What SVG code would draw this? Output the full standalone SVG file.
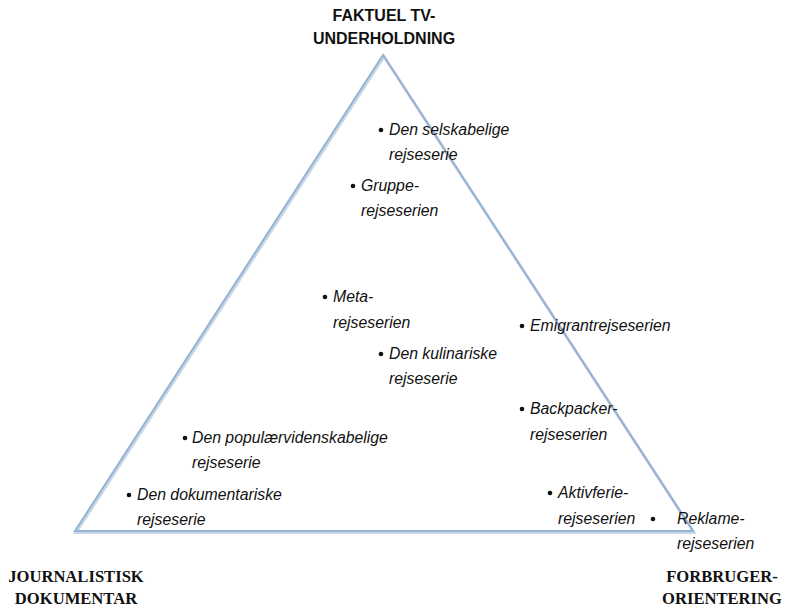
<svg xmlns="http://www.w3.org/2000/svg" width="785" height="608" viewBox="0 0 785 608">
<style>
.item{font-family:"Liberation Sans",Arial,sans-serif;font-style:italic;font-size:15.8px;fill:#111}
.bul{fill:#111}
.top{font-family:"Liberation Sans",Arial,sans-serif;font-weight:bold;font-size:16px;fill:#111;text-anchor:middle}
.corner{font-family:"Liberation Serif","Times New Roman",serif;font-weight:bold;font-size:16.6px;fill:#111;text-anchor:middle}
</style>
<rect width="785" height="608" fill="#fff"/>
<g id="connectors">
<polygon points="383,55 75,531 693,531" fill="none" stroke="#c8d6e6" stroke-width="3" transform="translate(1,1.5)"/>
<polygon points="383,55 75,531 693,531" fill="none" stroke="#97b3d2" stroke-width="2"/>
</g>
<g id="apex-top">
<text class="top" x="384" y="21">FAKTUEL TV-</text>
<text class="top" x="384" y="44">UNDERHOLDNING</text>
</g>
<g id="corner-left">
<text class="corner" x="76" y="582">JOURNALISTISK</text>
<text class="corner" x="76" y="604">DOKUMENTAR</text>
</g>
<g id="corner-right">
<text class="corner" x="722" y="582">FORBRUGER-</text>
<text class="corner" x="722" y="604">ORIENTERING</text>
</g>
<g id="selskabelige">
<circle class="bul" cx="381" cy="130" r="2.3"/>
<text class="item" x="389" y="135">Den selskabelige</text>
<text class="item" x="389" y="160">rejseserie</text>
</g>
<g id="gruppe">
<circle class="bul" cx="353" cy="186" r="2.3"/>
<text class="item" x="361" y="191">Gruppe-</text>
<text class="item" x="361" y="216">rejseserien</text>
</g>
<g id="meta">
<circle class="bul" cx="325" cy="297" r="2.3"/>
<text class="item" x="333" y="302">Meta-</text>
<text class="item" x="333" y="328">rejseserien</text>
</g>
<g id="kulinariske">
<circle class="bul" cx="381" cy="354" r="2.3"/>
<text class="item" x="389" y="359">Den kulinariske</text>
<text class="item" x="389" y="384">rejseserie</text>
</g>
<g id="emigrant">
<circle class="bul" cx="522" cy="326" r="2.3"/>
<text class="item" x="530" y="331">Emigrantrejseserien</text>
</g>
<g id="backpacker">
<circle class="bul" cx="522" cy="409" r="2.3"/>
<text class="item" x="530" y="414">Backpacker-</text>
<text class="item" x="530" y="440">rejseserien</text>
</g>
<g id="popularvidenskabelige">
<circle class="bul" cx="185" cy="438" r="2.3"/>
<text class="item" x="192" y="443">Den populærvidenskabelige</text>
<text class="item" x="192" y="468">rejseserie</text>
</g>
<g id="dokumentariske">
<circle class="bul" cx="129" cy="495" r="2.3"/>
<text class="item" x="137" y="500">Den dokumentariske</text>
<text class="item" x="137" y="525">rejseserie</text>
</g>
<g id="aktivferie">
<circle class="bul" cx="550" cy="493" r="2.3"/>
<text class="item" x="558" y="498">Aktivferie-</text>
<text class="item" x="558" y="524">rejseserien</text>
</g>
<g id="reklame">
<circle class="bul" cx="653" cy="519" r="2.3"/>
<text class="item" x="677" y="524">Reklame-</text>
<text class="item" x="677" y="549">rejseserien</text>
</g>
</svg>
